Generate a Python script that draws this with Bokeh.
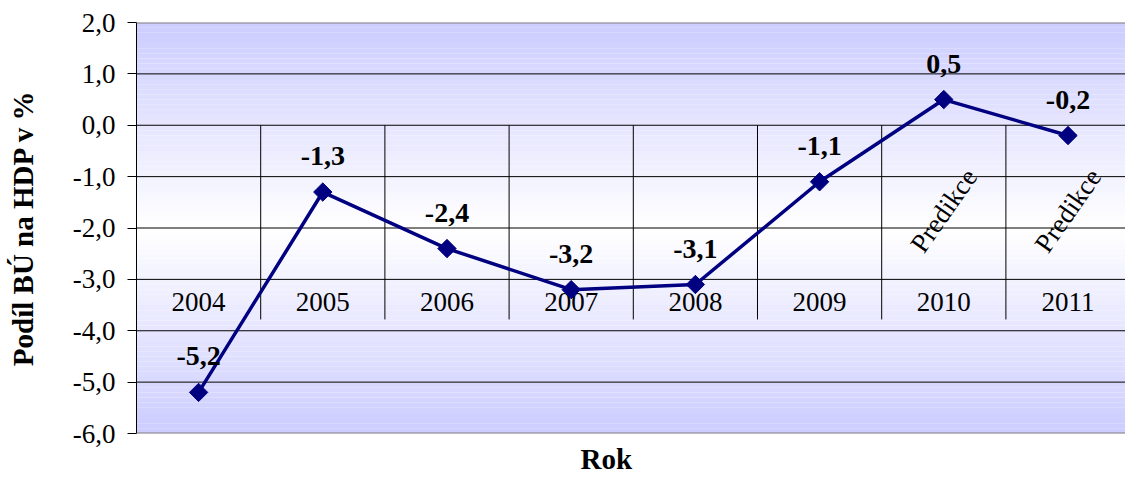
from math import pi

from bokeh.core.properties import value
from bokeh.embed import file_html
from bokeh.models import (ColumnDataSource, CustomJSTickFormatter, FixedTicker,
                          LinearAxis, Range1d, Span, Title)
from bokeh.plotting import figure
from bokeh.resources import INLINE

# Podíl běžného účtu na HDP (v %)
years = ["2004", "2005", "2006", "2007", "2008", "2009", "2010", "2011"]
values = [-5.2, -1.3, -2.4, -3.2, -3.1, -1.1, 0.5, -0.2]
notes = ["", "", "", "", "", "", "Predikce", "Predikce"]
y_ticks = [-6, -5, -4, -3, -2, -1, 0, 1, 2]

SERIF = "'Liberation Serif', 'Times New Roman', serif"
NAVY = "#000080"
LAVENDER = (204, 204, 255)

idx = list(range(len(years)))
y_min, y_max = y_ticks[0], y_ticks[-1]

p = figure(width=1125, height=483, output_backend="svg", toolbar_location=None,
           x_range=Range1d(-0.5, 7.463), y_range=Range1d(y_min, y_max),
           x_axis_location=None, y_axis_location=None,
           min_border_left=136, min_border_right=0,
           min_border_top=22, min_border_bottom=50,
           background_fill_color="white", border_fill_color="white")
p.outline_line_color = None
p.xgrid.visible = False
p.ygrid.visible = False

# vertical gradient: lavender at the edges, white in the middle
n = 80
mid = (y_min + y_max) / 2
half = (y_max - y_min) / 2
bottoms, tops, colors = [], [], []
for k in range(n):
    b = y_min + (y_max - y_min) * k / n
    t = y_min + (y_max - y_min) * (k + 1) / n
    d = abs((b + t) / 2 - mid) / half
    c = tuple(round(255 * (1 - d) + ch * d) for ch in LAVENDER)
    bottoms.append(b)
    tops.append(t)
    colors.append("#%02x%02x%02x" % c)
p.quad(left=-1, right=9, bottom=bottoms, top=tops, fill_color=colors,
       line_color=None)

# horizontal grid lines
inner = [t for t in y_ticks if y_min < t < y_max]
p.segment(x0=-1, x1=9, y0=inner, y1=inner, line_color="black", line_width=1)
for edge in (y_min, y_max):
    p.add_layout(Span(location=edge, dimension="width", line_color="#808080",
                      line_width=2))

# category separators hanging from the zero line
seps = [i + 0.5 for i in idx[:-1]]
p.segment(x0=seps, x1=seps, y0=0, y1=-3.78, line_color="black", line_width=1)

# category labels
cat_src = ColumnDataSource(dict(x=idx, y=[-3.45] * len(idx), t=years))
p.text(x="x", y="y", text="t", source=cat_src, text_align="center",
       text_baseline="middle", text_font=value(SERIF), text_font_size="27px",
       text_color="black")

# series
src = ColumnDataSource(dict(
    x=idx, y=values,
    lab=[f"{v:.1f}".replace(".", ",") for v in values],
    note=notes, ny=[-1.66] * len(idx)))
p.line(x="x", y="y", source=src, line_color=NAVY, line_width=3.5)
p.scatter(x="x", y="y", source=src, marker="square", angle=pi / 4, size=13,
          fill_color=NAVY, line_color=NAVY)
p.text(x="x", y="y", text="lab", source=src, y_offset=-36, text_align="center",
       text_baseline="middle", text_font=value(SERIF), text_font_size="28px",
       text_font_style="bold", text_color="black")
p.text(x="x", y="ny", text="note", source=src, angle=55 * pi / 180,
       text_align="center", text_baseline="middle", text_font=value(SERIF),
       text_font_size="27px", text_color="black")

# value axis
yaxis = LinearAxis(ticker=FixedTicker(ticks=y_ticks),
                   formatter=CustomJSTickFormatter(
                       code="return tick.toFixed(1).replace('.', ',');"))
yaxis.axis_line_color = "black"
yaxis.axis_line_width = 1
yaxis.major_tick_line_color = "black"
yaxis.major_tick_out = 9
yaxis.major_tick_in = 0
yaxis.minor_tick_line_color = None
yaxis.major_label_standoff = 12
yaxis.major_label_text_font = SERIF
yaxis.major_label_text_font_size = "27px"
yaxis.major_label_text_color = "black"
yaxis.axis_label = "Podíl BÚ na HDP v %"
yaxis.axis_label_standoff = 31
yaxis.axis_label_text_font = SERIF
yaxis.axis_label_text_font_size = "29px"
yaxis.axis_label_text_font_style = "bold"
yaxis.axis_label_text_color = "black"
p.add_layout(yaxis, "left")

# category axis title
p.add_layout(Title(text="Rok", align="left", offset=444, standoff=15,
                   text_font=SERIF, text_font_size="29px",
                   text_font_style="bold", text_color="black"), "below")

open("out.html", "w").write(file_html(p, INLINE))
